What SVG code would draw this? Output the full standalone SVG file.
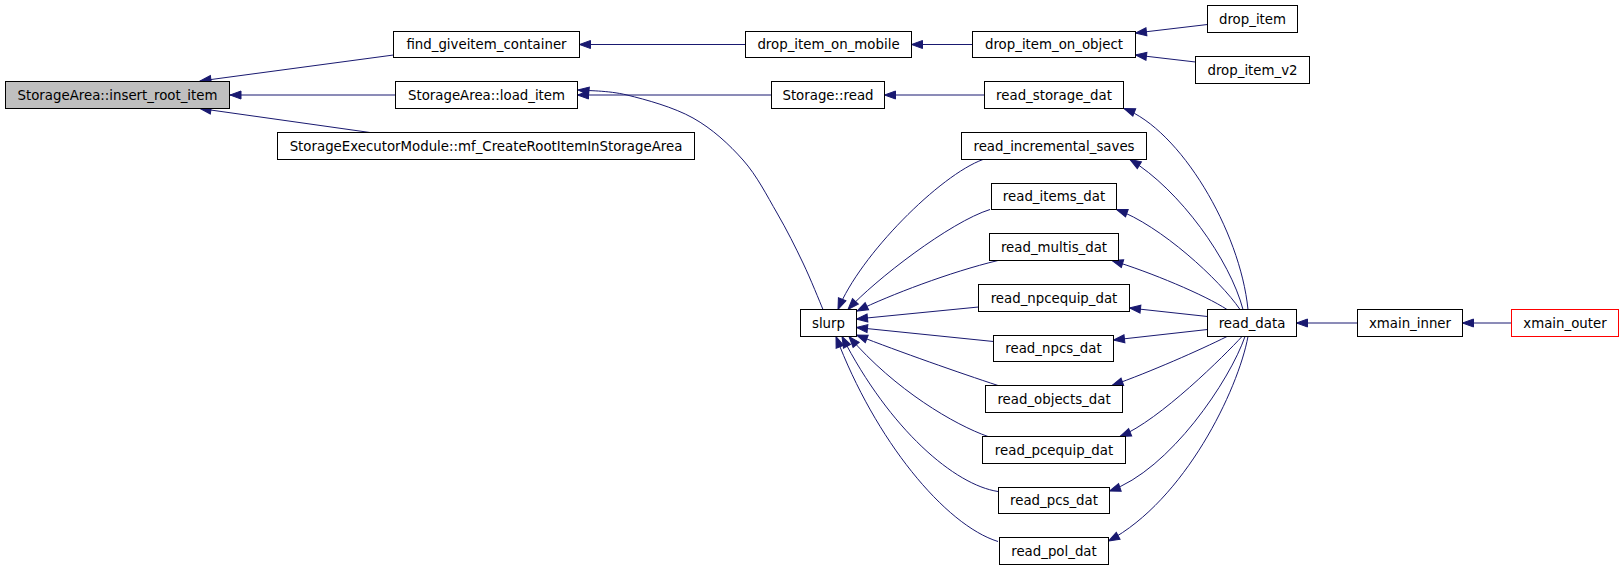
<svg xmlns="http://www.w3.org/2000/svg" width="1624" height="569" viewBox="0 0 1624 569">
<style>
.n rect{fill:#ffffff;stroke:#000000;stroke-width:1}
.n text{font-family:"DejaVu Sans",sans-serif;font-size:13.33px;fill:#000000;text-anchor:middle}
.e path{fill:none;stroke:#191970;stroke-width:1;marker-end:url(#arr)}
</style>
<defs>
<marker id="arr" markerUnits="userSpaceOnUse" viewBox="0 0 11 8" markerWidth="11" markerHeight="8" refX="11" refY="4" orient="auto" overflow="visible">
<path d="M0,0 L11,4 L0,8 z" fill="#191970" stroke="#191970" stroke-width="1"/>
</marker>
</defs>
<rect x="0" y="0" width="1624" height="569" fill="#ffffff"/>
<g id="connectors" class="e">
<path d="M393.5,55 L200,81"/>
<path d="M395.5,95 L230,95"/>
<path d="M370,132.5 L200,108.5"/>
<path d="M745.5,44.5 L579.5,44.5"/>
<path d="M972.5,44.5 L911.5,44.5"/>
<path d="M1207.5,24.5 L1135.5,33"/>
<path d="M1195.5,62 L1135.5,55"/>
<path d="M771.5,95 L577.5,95"/>
<path d="M984.5,95 L884.5,95"/>
<path d="M823,309.5 C819.7,301.75 810.7,279.1 803,263 C795.3,246.9 787,230.2 777,213 C767,195.8 757,175.8 743,160 C729,144.2 712.3,128.8 693,118 C673.7,107.2 646.2,99.7 627,95 C607.8,90.3 586.2,90.8 578,90"/>
<path d="M983,159.5 C940,175 860,255 838,309.5"/>
<path d="M990,209.5 C950,222 875,280 848,309.5"/>
<path d="M998,260.5 C950,272 890,295 857,311"/>
<path d="M978.5,307 L856.5,319"/>
<path d="M993.5,341.5 L856.5,327.5"/>
<path d="M998,385.5 C960,373 900,352 856.5,335"/>
<path d="M988,436.5 C955,425 895,390 849,336.5"/>
<path d="M998,491.5 C955,485 890,430 842,336.5"/>
<path d="M998,541.5 C945,525 875,440 836,336.5"/>
<path d="M1248,309.5 C1240,230 1180,130 1124,108.5"/>
<path d="M1243,309.5 C1230,260 1180,190 1130,159.5"/>
<path d="M1240,309.5 C1220,280 1160,225 1116.5,209.5"/>
<path d="M1227,309.5 C1205,295 1150,272 1112,260.5"/>
<path d="M1207.5,316.5 L1129.5,308"/>
<path d="M1207.5,329.5 L1113.5,340"/>
<path d="M1227,336.5 C1200,350 1150,372 1112,385.5"/>
<path d="M1242,336.5 C1225,355 1160,420 1120,436.5"/>
<path d="M1245,336.5 C1230,380 1170,470 1109.5,491"/>
<path d="M1248,336.5 C1238,390 1185,500 1108.5,541"/>
<path d="M1357.5,323 L1296.5,323"/>
<path d="M1511.5,323 L1462.5,323"/>
</g>
<g id="insert_root_item" class="n"><rect x="5.5" y="81.5" width="224" height="27" style="fill:#bfbfbf"/><text x="117.5" y="99.5">StorageArea::insert_root_item</text></g>
<g id="find_giveitem_container" class="n"><rect x="393.5" y="31.5" width="186" height="26"/><text x="486.5" y="49">find_giveitem_container</text></g>
<g id="load_item" class="n"><rect x="395.5" y="81.5" width="182" height="27"/><text x="486.5" y="99.5">StorageArea::load_item</text></g>
<g id="mf_CreateRootItemInStorageArea" class="n"><rect x="277.5" y="132.5" width="417" height="27"/><text x="486" y="150.5">StorageExecutorModule::mf_CreateRootItemInStorageArea</text></g>
<g id="drop_item_on_mobile" class="n"><rect x="745.5" y="31.5" width="166" height="26"/><text x="828.5" y="49">drop_item_on_mobile</text></g>
<g id="storage_read" class="n"><rect x="771.5" y="81.5" width="113" height="27"/><text x="828" y="99.5">Storage::read</text></g>
<g id="drop_item_on_object" class="n"><rect x="972.5" y="31.5" width="163" height="26"/><text x="1054" y="49">drop_item_on_object</text></g>
<g id="drop_item" class="n"><rect x="1207.5" y="5.5" width="90" height="27"/><text x="1252.5" y="23.5">drop_item</text></g>
<g id="drop_item_v2" class="n"><rect x="1195.5" y="56.5" width="114" height="27"/><text x="1252.5" y="74.5">drop_item_v2</text></g>
<g id="read_storage_dat" class="n"><rect x="984.5" y="81.5" width="139" height="27"/><text x="1054" y="99.5">read_storage_dat</text></g>
<g id="read_incremental_saves" class="n"><rect x="961.5" y="132.5" width="185" height="27"/><text x="1054" y="150.5">read_incremental_saves</text></g>
<g id="read_items_dat" class="n"><rect x="991.5" y="183.5" width="125" height="26"/><text x="1054" y="201">read_items_dat</text></g>
<g id="read_multis_dat" class="n"><rect x="989.5" y="233.5" width="129" height="27"/><text x="1054" y="251.5">read_multis_dat</text></g>
<g id="read_npcequip_dat" class="n"><rect x="978.5" y="284.5" width="151" height="27"/><text x="1054" y="302.5">read_npcequip_dat</text></g>
<g id="slurp" class="n"><rect x="800.5" y="309.5" width="56" height="27"/><text x="828.5" y="327.5">slurp</text></g>
<g id="read_npcs_dat" class="n"><rect x="993.5" y="335.5" width="120" height="26"/><text x="1053.5" y="353">read_npcs_dat</text></g>
<g id="read_objects_dat" class="n"><rect x="985.5" y="385.5" width="137" height="27"/><text x="1054" y="403.5">read_objects_dat</text></g>
<g id="read_pcequip_dat" class="n"><rect x="982.5" y="436.5" width="143" height="27"/><text x="1054" y="454.5">read_pcequip_dat</text></g>
<g id="read_pcs_dat" class="n"><rect x="998.5" y="487.5" width="111" height="26"/><text x="1054" y="505">read_pcs_dat</text></g>
<g id="read_pol_dat" class="n"><rect x="999.5" y="537.5" width="109" height="27"/><text x="1054" y="555.5">read_pol_dat</text></g>
<g id="read_data" class="n"><rect x="1207.5" y="309.5" width="89" height="27"/><text x="1252" y="327.5">read_data</text></g>
<g id="xmain_inner" class="n"><rect x="1357.5" y="309.5" width="105" height="27"/><text x="1410" y="327.5">xmain_inner</text></g>
<g id="xmain_outer" class="n"><rect x="1511.5" y="309.5" width="107" height="27" style="stroke:#ff0000"/><text x="1565" y="327.5">xmain_outer</text></g>
</svg>
